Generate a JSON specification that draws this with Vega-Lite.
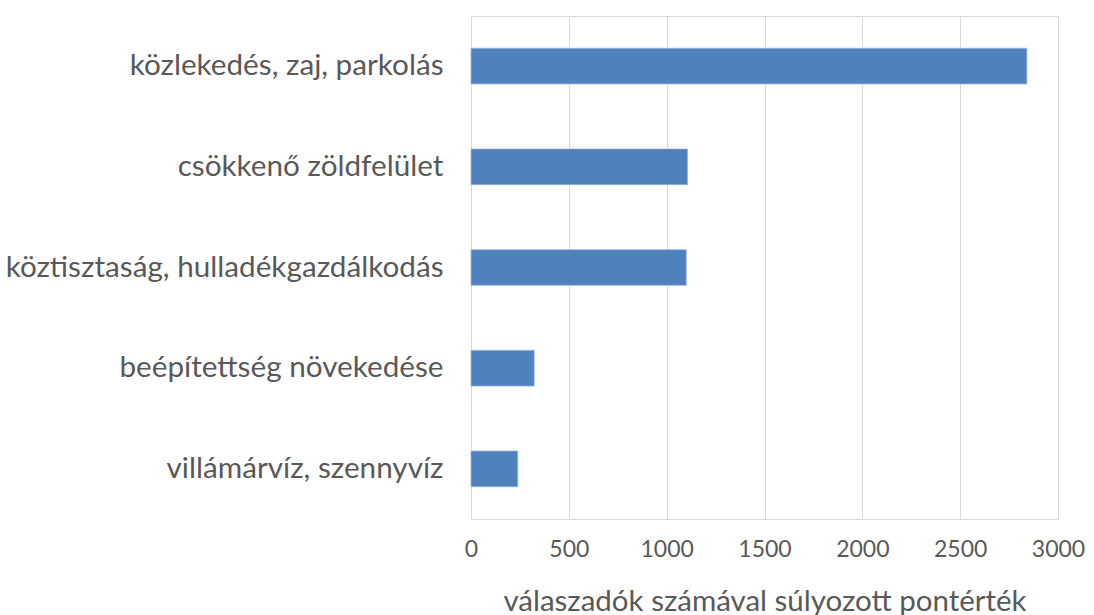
{
  "$schema": "https://vega.github.io/schema/vega-lite/v6.json",
  "width": 587,
  "height": 503,
  "autosize": {"type": "none"},
  "padding": {"left": 471, "top": 16, "right": 36, "bottom": 96},
  "background": "white",
  "config": {
    "view": {"stroke": "#d9d9d9", "strokeWidth": 1},
    "font": "Lato"
  },
  "data": {
    "values": [
      {"kategoria": "közlekedés, zaj, parkolás", "ertek": 2841},
      {"kategoria": "csökkenő zöldfelület", "ertek": 1107},
      {"kategoria": "köztisztaság, hulladékgazdálkodás", "ertek": 1100},
      {"kategoria": "beépítettség növekedése", "ertek": 323},
      {"kategoria": "villámárvíz, szennyvíz", "ertek": 239}
    ]
  },
  "mark": {"type": "bar", "color": "#4f81bd", "stroke": "#9bb7dd", "strokeWidth": 0.8},
  "encoding": {
    "y": {
      "field": "kategoria",
      "type": "nominal",
      "sort": null,
      "scale": {"paddingInner": 0.645, "paddingOuter": 0.32},
      "axis": {
        "title": null,
        "domain": false,
        "ticks": false,
        "labelPadding": 28,
        "labelFontSize": 29.7,
        "labelColor": "#595959",
        "labelFont": "Lato",
        "labelLimit": 600
      }
    },
    "x": {
      "field": "ertek",
      "type": "quantitative",
      "scale": {"domain": [0, 3000], "nice": false},
      "axis": {
        "values": [0, 500, 1000, 1500, 2000, 2500, 3000],
        "format": "d",
        "labelFlush": false,
        "labelOverlap": false,
        "title": "válaszadók számával súlyozott pontérték",
        "titleFontSize": 29.5,
        "titleFontWeight": "normal",
        "titleColor": "#595959",
        "titleFont": "Lato",
        "titlePadding": 26,
        "labelFontSize": 23,
        "labelColor": "#595959",
        "labelFont": "Lato",
        "labelPadding": 19,
        "ticks": false,
        "domainColor": "#d9d9d9",
        "grid": true,
        "gridColor": "#d9d9d9",
        "gridWidth": 1
      }
    }
  }
}
